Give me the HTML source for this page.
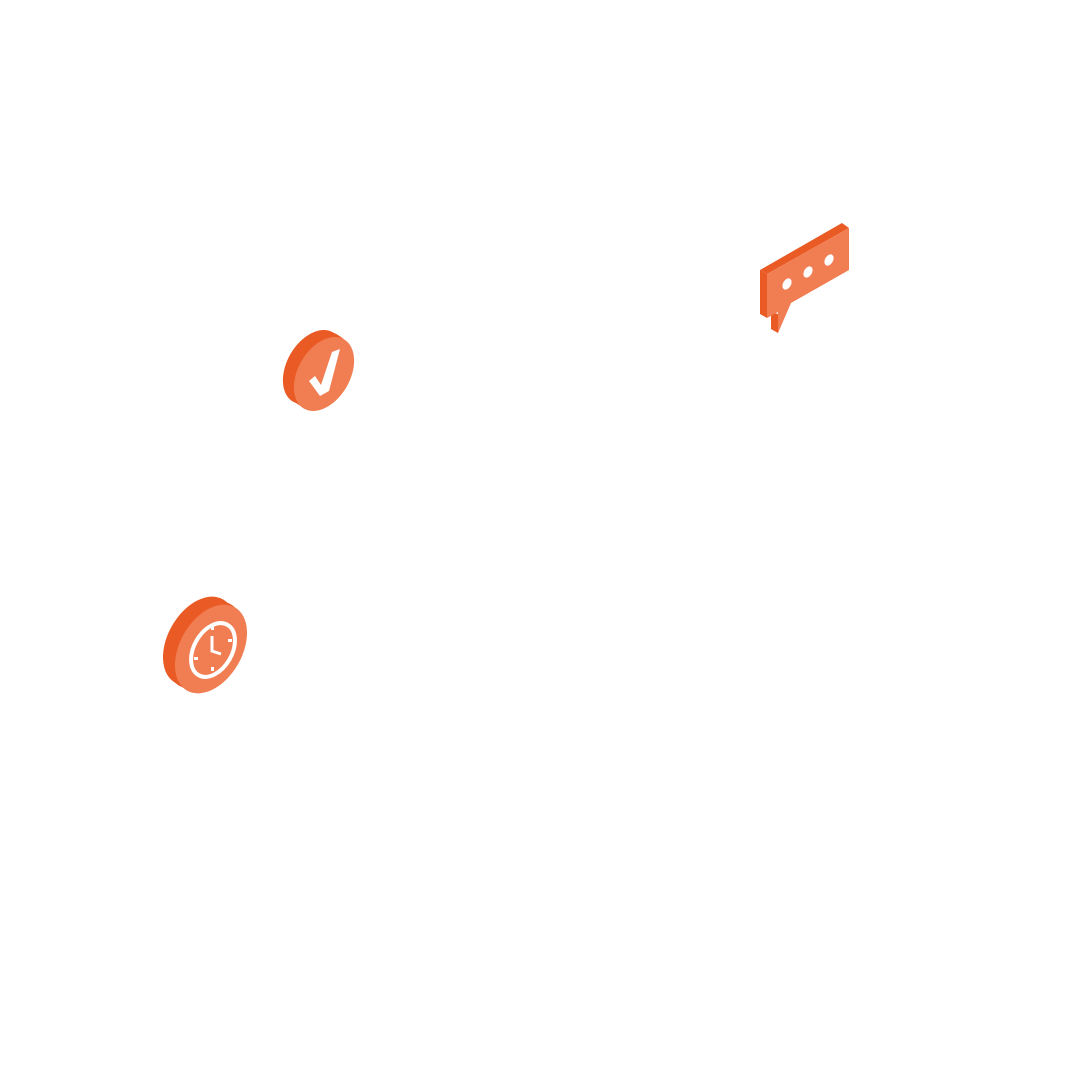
<!DOCTYPE html>
<html><head><style>html,body{margin:0;padding:0;background:#fff;}svg{display:block}</style></head>
<body>
<svg width="1080" height="1080" viewBox="0 0 1080 1080" xmlns="http://www.w3.org/2000/svg">
<rect width="1080" height="1080" fill="#fff"/>
<!-- speech bubble -->
<polygon points="760,270 842,223 849,228 767,274" fill="#EA5A25"/>
<polygon points="760,270 767,274 767,318 760,314" fill="#EA5A25"/>
<polygon points="771,312 778,314 778,333 771,329" fill="#EA5A25"/>
<polygon points="767,274 849,228 849,270 791,303 778,333 778,312 767,318" fill="#F07E52"/>
<ellipse cx="787" cy="284" rx="4" ry="6" transform="rotate(30 787 284)" fill="#fff"/>
<ellipse cx="808" cy="272" rx="4" ry="6" transform="rotate(30 808 272)" fill="#fff"/>
<ellipse cx="829" cy="260" rx="4" ry="6" transform="rotate(30 829 260)" fill="#fff"/>
<!-- check coin -->
<g fill="#EA5A25">
<ellipse cx="313" cy="367" rx="26" ry="40" transform="rotate(30 313 367)"/>
<ellipse cx="317" cy="369" rx="26" ry="40" transform="rotate(30 317 369)"/>
<ellipse cx="320" cy="371" rx="26" ry="40" transform="rotate(30 320 371)"/>
</g>
<ellipse cx="324" cy="374" rx="26" ry="40" transform="rotate(30 324 374)" fill="#F07E52"/>
<polygon points="309,381 315,376 321,385 332,352 340,349 329,391 320,396" fill="#fff"/>
<!-- clock coin -->
<g fill="#EA5A25">
<ellipse cx="199" cy="641" rx="31" ry="48" transform="rotate(30 199 641)"/>
<ellipse cx="203" cy="644" rx="31" ry="48" transform="rotate(30 203 644)"/>
<ellipse cx="207" cy="646" rx="31" ry="48" transform="rotate(30 207 646)"/>
</g>
<ellipse cx="211" cy="649" rx="31" ry="48" transform="rotate(30 211 649)" fill="#F07E52"/>
<ellipse cx="213" cy="650" rx="19" ry="29" transform="rotate(30 213 650)" fill="none" stroke="#fff" stroke-width="4"/>
<polyline points="212,636 212,651 221,654" fill="none" stroke="#fff" stroke-width="3"/>
<g fill="#fff"><rect x="211" y="626" width="3" height="4"/><rect x="211" y="667" width="3" height="4"/><rect x="194" y="657" width="4" height="3"/><rect x="228" y="639" width="4" height="3"/></g>
</svg>
</body></html>
